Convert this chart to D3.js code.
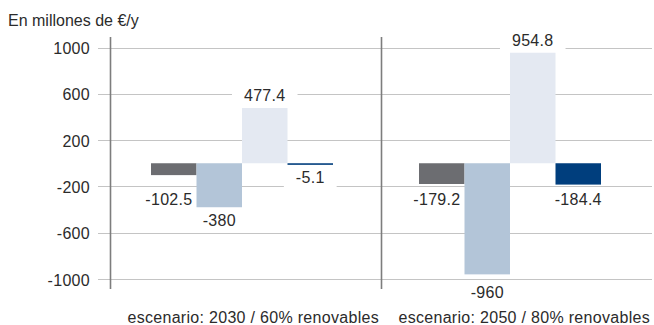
<!DOCTYPE html>
<html>
<head>
<meta charset="utf-8">
<script src="https://cdn.jsdelivr.net/npm/d3@7"></script>
<style>
  html, body { margin: 0; padding: 0; background: #fff; }
  svg { display: block; font-family: "Liberation Sans", Arial, Helvetica, sans-serif; }
</style>
</head>
<body>
<svg id="chart" width="654" height="325"></svg>
<script>
// ---- data ----
const categories = ["escenario: 2030 / 60% renovables", "escenario: 2050 / 80% renovables"];
const seriesKeys = ["serie1", "serie2", "serie3", "serie4"];
const values2030 = [-102.5, -380, 477.4, -5.1];
const values2050 = [-179.2, -960, 954.8, -184.4];
const valueLabels2030 = ["-102.5", "-380", "477.4", "-5.1"];
const valueLabels2050 = ["-179.2", "-960", "954.8", "-184.4"];
const yTicks = [1000, 600, 200, -200, -600, -1000];
const yTickLabels = ["1000", "600", "200", "-200", "-600", "-1000"];
const unitTitle = "En millones de €/y";

// ---- styling ----
const colors = ["#6c6d71", "#b3c5d8", "#e4e9f2", "#003e7d"];
const textColor = "#2b2b2b";
const fontSize = 16;
const ls = 0.3;
const minBarH = 1.6;

const svg = d3.select("#chart");

const rows = [
  { cat: categories[0], values: values2030, labels: valueLabels2030 },
  { cat: categories[1], values: values2050, labels: valueLabels2050 }
];

const y = d3.scaleLinear().domain([1000, -1000]).range([47.5, 279]);
const panel = d3.scaleBand().domain(categories).range([110, 652]);
const group = d3.scaleBand().domain(categories).range([108, 644]);
const groupWidth = 182;
const groupOffset = (group.bandwidth() - groupWidth) / 2;
const inner = d3.scaleBand().domain(seriesKeys).range([0, groupWidth]);

// gridlines + tick labels
const yAxis = d3.axisLeft(y).tickValues(yTicks)
  .tickSize(-(652 - 98)).tickPadding(8)
  .tickFormat((d, i) => yTickLabels[i]);
const ga = svg.append("g").attr("transform", "translate(98,0)").call(yAxis);
ga.select(".domain").remove();
ga.selectAll(".tick line").attr("stroke", "#c4c4c4").attr("stroke-width", 1)
  .attr("shape-rendering", "crispEdges");
ga.selectAll(".tick text").attr("fill", textColor)
  .attr("font-size", fontSize).attr("font-family", null)
  .attr("letter-spacing", ls)
  .attr("dy", null).attr("y", 6);

// vertical axis + divider
svg.selectAll("line.vline").data(categories).join("line")
  .attr("class", "vline")
  .attr("x1", d => panel(d) + 0.5).attr("x2", d => panel(d) + 0.5)
  .attr("y1", 37).attr("y2", 289)
  .attr("stroke", "#7d7d7d").attr("stroke-width", 1.6);

// bar records
const bars = [];
rows.forEach(r => {
  r.values.forEach((v, i) => {
    bars.push({ cat: r.cat, key: seriesKeys[i], i, v, label: r.labels[i], vals: r.values });
  });
});
const bx = d => group(d.cat) + groupOffset + inner(d.key);
const bh = d => Math.max(minBarH, Math.abs(y(d.v) - y(0)));

const bgLayer = svg.append("g");
const barLayer = svg.append("g");
const textLayer = svg.append("g");

barLayer.selectAll("rect").data(bars).join("rect")
  .attr("x", bx)
  .attr("width", inner.bandwidth())
  .attr("y", d => d.v >= 0 ? y(0) - bh(d) : y(0))
  .attr("height", bh)
  .attr("fill", d => colors[d.i]);

// value labels
const capH = 11.5;
bars.forEach(d => {
  const x0 = bx(d);
  const cx = x0 + inner.bandwidth() / 2;
  const t = textLayer.append("text").text(d.label)
    .attr("font-size", fontSize).attr("fill", textColor)
    .attr("letter-spacing", ls)
    .attr("text-anchor", "middle").attr("x", cx);
  const w = t.node().getComputedTextLength();
  let base;
  if (d.v >= 0) {
    base = y(d.v) - 7;
  } else {
    let anchor = y(0) + bh(d);
    yTicks.forEach(tv => {
      const gy = y(tv);
      if (gy > anchor && gy < anchor + 19.5) anchor = Math.max(anchor, gy);
    });
    base = anchor + 18.5;
    const next = d.vals[d.i + 1];
    if (next !== undefined && next < 0 && y(next) > base - capH) {
      const right = x0 + inner.bandwidth() - 4;
      if (cx + w / 2 > right) t.attr("x", right - w / 2);
    }
  }
  t.attr("y", base);
  bgLayer.append("rect")
    .attr("x", +t.attr("x") - w / 2 - 12).attr("y", base - capH - 4)
    .attr("width", w + 24).attr("height", capH + 8)
    .attr("fill", "#fff");
});

// category labels
svg.selectAll("text.cat").data(categories).join("text")
  .attr("class", "cat")
  .attr("x", d => panel(d) + panel.bandwidth() - 2)
  .attr("y", 323)
  .attr("text-anchor", "end")
  .attr("font-size", fontSize).attr("fill", textColor)
  .attr("letter-spacing", ls)
  .text(d => d);

// unit title
svg.append("text").attr("x", 8).attr("y", 26)
  .attr("font-size", 16).attr("fill", textColor)
  .text(unitTitle);
</script>
</body>
</html>
